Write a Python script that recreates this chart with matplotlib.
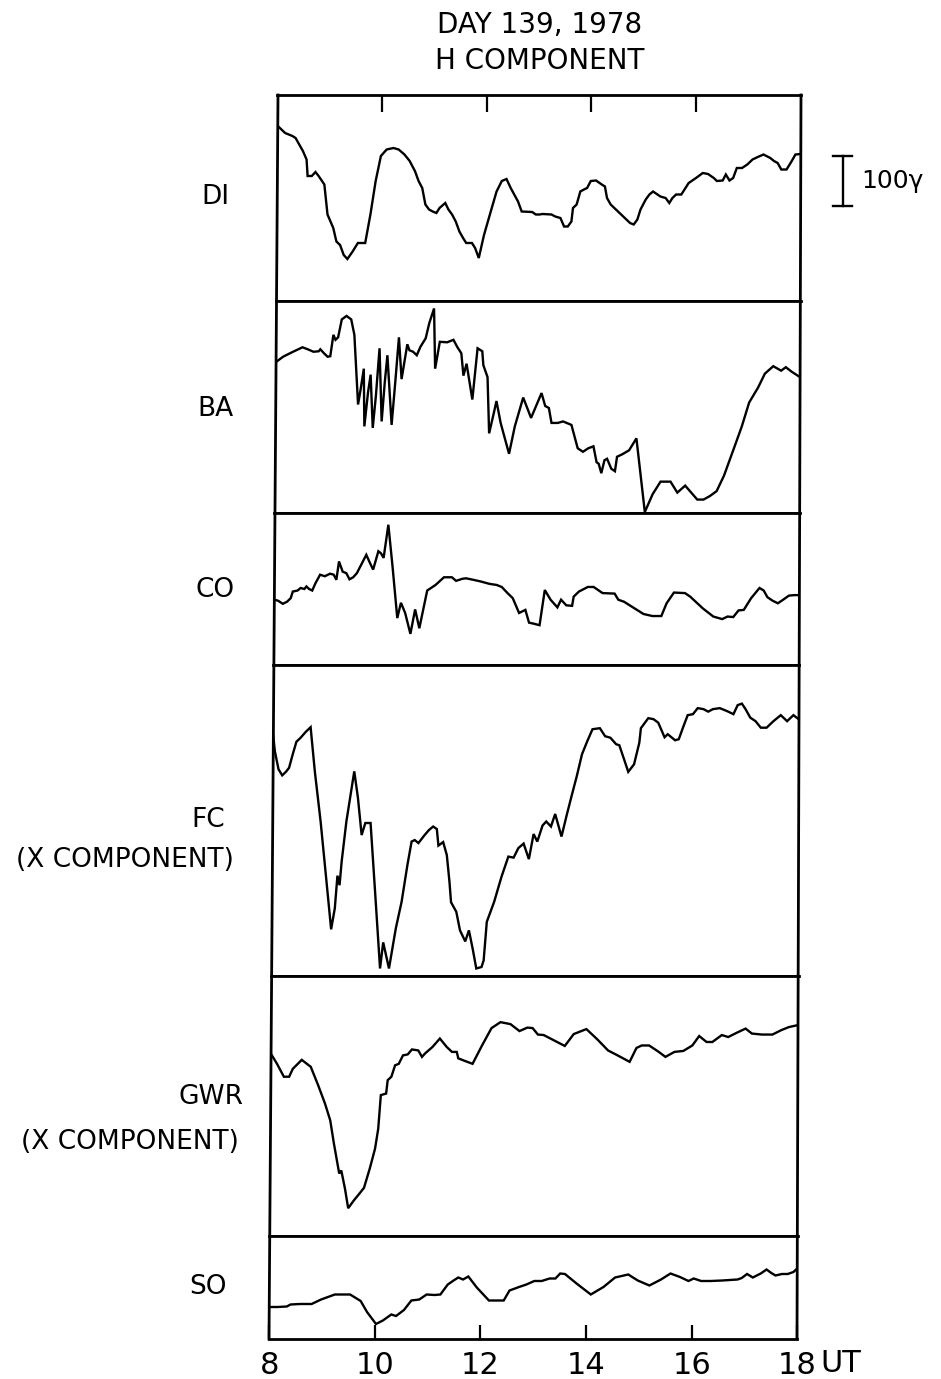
import matplotlib
matplotlib.use('Agg')
import matplotlib.pyplot as plt
from matplotlib.lines import Line2D

# Magnetogramas do dia 139 de 1978, componente H
# valores: tempo em UT (horas) e amplitude em gamma acima da base de cada painel

DI_T = [8.01, 8.15, 8.29, 8.35, 8.49, 8.56, 8.58, 8.66, 8.73, 8.79,
        8.90, 8.96, 9.07, 9.13, 9.20, 9.27, 9.34, 9.44, 9.54, 9.68,
        9.78, 9.88, 9.98, 10.09, 10.22, 10.32, 10.43, 10.53, 10.63, 10.70,
        10.77, 10.83, 10.90, 10.97, 11.04, 11.10, 11.21, 11.27, 11.34, 11.41,
        11.48, 11.55, 11.61, 11.72, 11.78, 11.85, 11.95, 12.09, 12.19, 12.29,
        12.38, 12.46, 12.60, 12.67, 12.87, 12.94, 13.01, 13.07, 13.24, 13.31,
        13.41, 13.48, 13.55, 13.62, 13.65, 13.72, 13.79, 13.86, 13.92, 13.99,
        14.09, 14.20, 14.26, 14.30, 14.37, 14.47, 14.57, 14.67, 14.74, 14.81,
        14.88, 14.94, 15.04, 15.11, 15.18, 15.32, 15.42, 15.49, 15.55, 15.62,
        15.72, 15.86, 16.00, 16.13, 16.23, 16.34, 16.40, 16.51, 16.57, 16.64,
        16.71, 16.78, 16.88, 16.98, 17.08, 17.18, 17.29, 17.42, 17.49, 17.56,
        17.63, 17.73, 17.83, 17.90, 18.00]
DI_V = [350, 336, 330, 326, 300, 283, 250, 250, 258, 250,
        233, 173, 146, 119, 112, 92, 84, 99, 116, 116,
        173, 240, 290, 303, 306, 303, 293, 280, 260, 240,
        226, 193, 183, 179, 176, 186, 196, 183, 173, 159,
        139, 126, 116, 116, 106, 86, 132, 183, 219, 240,
        244, 226, 199, 179, 178, 173, 173, 174, 173, 169,
        166, 149, 149, 159, 186, 193, 219, 223, 226, 240,
        241, 233, 229, 206, 193, 183, 173, 163, 156, 153,
        163, 183, 203, 213, 219, 209, 206, 196, 206, 213,
        213, 236, 246, 256, 254, 246, 240, 241, 253, 241,
        246, 266, 266, 273, 283, 288, 293, 286, 280, 276,
        263, 263, 280, 293, 294]

BA_T = [8.00, 8.14, 8.31, 8.51, 8.61, 8.72, 8.82, 8.85, 8.92, 8.99,
        9.04, 9.10, 9.14, 9.19, 9.26, 9.35, 9.44, 9.50, 9.57, 9.62,
        9.68, 9.69, 9.76, 9.81, 9.85, 9.91, 9.98, 10.02, 10.08, 10.13,
        10.21, 10.28, 10.35, 10.40, 10.51, 10.55, 10.62, 10.69, 10.76, 10.86,
        10.93, 11.02, 11.04, 11.13, 11.27, 11.39, 11.46, 11.54, 11.58, 11.64,
        11.75, 11.85, 11.94, 11.96, 12.04, 12.07, 12.16, 12.21, 12.29, 12.45,
        12.56, 12.72, 12.87, 13.07, 13.14, 13.21, 13.26, 13.38, 13.48, 13.64,
        13.76, 13.86, 13.96, 14.06, 14.12, 14.16, 14.21, 14.27, 14.32, 14.40,
        14.47, 14.51, 14.61, 14.74, 14.88, 15.04, 15.19, 15.34, 15.53, 15.66,
        15.81, 16.04, 16.16, 16.28, 16.41, 16.55, 16.75, 16.89, 17.03, 17.20,
        17.33, 17.49, 17.64, 17.73, 17.84, 18.00]
BA_V = [303, 314, 323, 333, 329, 324, 325, 329, 321, 314,
        315, 358, 348, 353, 389, 396, 389, 358, 218, 249,
        290, 174, 242, 278, 171, 235, 331, 184, 263, 317,
        177, 263, 353, 269, 339, 327, 324, 317, 334, 351,
        382, 411, 290, 344, 343, 348, 334, 321, 276, 300,
        228, 331, 325, 297, 273, 160, 201, 225, 181, 119,
        174, 232, 191, 241, 215, 211, 181, 181, 184, 177,
        130, 123, 130, 134, 102, 99, 80, 106, 109, 89,
        84, 113, 118, 126, 150, 2, 38, 63, 63, 41,
        55, 27, 27, 34, 44, 75, 133, 174, 222, 252,
        280, 295, 286, 293, 284, 273]

CO_T = [8.00, 8.07, 8.16, 8.24, 8.31, 8.35, 8.44, 8.50, 8.57, 8.61,
        8.66, 8.72, 8.78, 8.87, 8.96, 9.06, 9.13, 9.18, 9.23, 9.30,
        9.37, 9.43, 9.50, 9.57, 9.67, 9.75, 9.82, 9.88, 9.98, 10.03,
        10.08, 10.17, 10.25, 10.34, 10.41, 10.49, 10.59, 10.68, 10.76, 10.91,
        11.07, 11.23, 11.38, 11.46, 11.58, 11.65, 11.79, 11.92, 12.10, 12.23,
        12.33, 12.44, 12.54, 12.66, 12.78, 12.85, 12.94, 13.05, 13.15, 13.26,
        13.39, 13.46, 13.56, 13.67, 13.70, 13.80, 13.97, 14.08, 14.25, 14.48,
        14.55, 14.66, 14.86, 15.03, 15.20, 15.37, 15.47, 15.61, 15.82, 15.92,
        16.16, 16.36, 16.53, 16.63, 16.74, 16.84, 16.94, 17.08, 17.24, 17.32,
        17.39, 17.49, 17.59, 17.69, 17.80, 17.90, 18.00]
CO_V = [128, 126, 120, 124, 131, 144, 146, 151, 149, 154,
        149, 146, 160, 177, 174, 179, 177, 167, 203, 183,
        180, 168, 172, 180, 200, 216, 200, 187, 223, 219,
        210, 275, 193, 92, 122, 102, 61, 109, 72, 146,
        157, 172, 172, 165, 169, 170, 167, 164, 159, 157,
        153, 141, 131, 102, 108, 83, 81, 78, 147, 128,
        113, 128, 117, 116, 134, 144, 153, 153, 141, 140,
        128, 124, 111, 100, 96, 96, 121, 142, 141, 134,
        111, 95, 90, 95, 94, 107, 108, 131, 151, 146,
        133, 126, 121, 128, 136, 137, 137]

FC_T = [8.00, 8.04, 8.11, 8.18, 8.25, 8.31, 8.38, 8.45, 8.53, 8.63,
        8.72, 8.80, 8.91, 9.01, 9.11, 9.18, 9.23, 9.27, 9.31, 9.40,
        9.55, 9.62, 9.69, 9.76, 9.86, 9.95, 10.04, 10.10, 10.21, 10.34,
        10.45, 10.56, 10.64, 10.70, 10.77, 10.88, 10.97, 11.05, 11.12, 11.15,
        11.24, 11.31, 11.36, 11.39, 11.49, 11.56, 11.66, 11.73, 11.80, 11.87,
        11.97, 12.01, 12.07, 12.21, 12.35, 12.48, 12.58, 12.67, 12.77, 12.87,
        12.96, 13.03, 13.13, 13.20, 13.29, 13.37, 13.49, 13.59, 13.69, 13.78,
        13.88, 13.98, 14.08, 14.22, 14.32, 14.42, 14.53, 14.59, 14.68, 14.76,
        14.87, 14.97, 15.00, 15.14, 15.24, 15.33, 15.45, 15.51, 15.65, 15.72,
        15.81, 15.89, 15.99, 16.08, 16.19, 16.28, 16.37, 16.50, 16.64, 16.76,
        16.84, 16.92, 16.99, 17.08, 17.18, 17.28, 17.39, 17.52, 17.66, 17.78,
        17.90, 18.00]
FC_V = [488, 448, 412, 400, 407, 415, 442, 467, 475, 487,
        496, 408, 308, 201, 93, 135, 200, 181, 228, 308,
        408, 355, 281, 305, 305, 161, 15, 67, 15, 95,
        148, 221, 268, 271, 265, 280, 291, 298, 293, 260,
        267, 241, 188, 147, 128, 91, 69, 91, 55, 15,
        18, 31, 108, 148, 198, 238, 236, 255, 264, 233,
        283, 268, 300, 308, 298, 323, 278, 321, 362, 398,
        442, 468, 492, 494, 478, 475, 462, 460, 432, 407,
        422, 465, 494, 514, 512, 505, 476, 482, 470, 472,
        498, 520, 522, 534, 532, 527, 532, 534, 528, 522,
        540, 543, 532, 515, 508, 495, 495, 508, 520, 508,
        520, 512]

GWR_T = [8.00, 8.12, 8.25, 8.35, 8.42, 8.59, 8.76, 8.90, 9.03, 9.13,
         9.20, 9.30, 9.34, 9.41, 9.47, 9.58, 9.68, 9.77, 9.88, 9.98,
         10.04, 10.09, 10.19, 10.22, 10.29, 10.36, 10.43, 10.51, 10.60, 10.68,
         10.80, 10.87, 10.93, 11.07, 11.21, 11.34, 11.44, 11.53, 11.56, 11.68,
         11.83, 12.01, 12.19, 12.36, 12.55, 12.72, 12.87, 12.97, 13.07, 13.18,
         13.38, 13.58, 13.75, 13.99, 14.20, 14.40, 14.60, 14.81, 14.94, 15.04,
         15.18, 15.35, 15.49, 15.66, 15.83, 16.00, 16.13, 16.27, 16.38, 16.56,
         16.68, 16.85, 17.01, 17.13, 17.32, 17.52, 17.69, 17.83, 18.00]
GWR_V = [368, 347, 321, 321, 337, 355, 341, 304, 267, 233,
         186, 126, 132, 95, 56, 72, 85, 97, 136, 176,
         216, 284, 287, 314, 321, 344, 347, 364, 366, 376,
         374, 361, 368, 381, 398, 381, 371, 371, 358, 353,
         347, 384, 419, 431, 427, 413, 420, 419, 406, 405,
         394, 383, 407, 417, 396, 374, 363, 351, 379, 384,
         384, 372, 361, 371, 373, 384, 403, 391, 391, 405,
         401, 410, 418, 408, 406, 406, 415, 421, 425]

SO_T = [8.00, 8.15, 8.33, 8.40, 8.58, 8.80, 8.98, 9.24, 9.53, 9.73,
        9.85, 10.02, 10.15, 10.31, 10.40, 10.55, 10.69, 10.84, 10.98, 11.13,
        11.24, 11.31, 11.38, 11.49, 11.58, 11.67, 11.77, 11.93, 12.16, 12.44,
        12.55, 12.73, 12.87, 13.02, 13.16, 13.31, 13.42, 13.51, 13.60, 13.82,
        14.09, 14.33, 14.55, 14.80, 14.98, 15.20, 15.42, 15.60, 15.78, 15.94,
        16.04, 16.18, 16.36, 16.58, 16.87, 16.95, 17.05, 17.16, 17.31, 17.42,
        17.51, 17.59, 17.71, 17.82, 17.93, 18.00]
SO_V = [64, 64, 65, 69, 70, 70, 79, 89, 89, 76,
        54, 30, 37, 49, 46, 58, 77, 79, 89, 88,
        89, 99, 109, 117, 123, 119, 125, 103, 77, 77,
        97, 104, 109, 116, 116, 121, 121, 131, 130, 111,
        89, 104, 123, 129, 117, 107, 119, 131, 124, 116,
        121, 116, 116, 117, 119, 122, 130, 123, 131, 139,
        132, 127, 130, 130, 134, 141]

# altura de cada painel em gamma (mesma escala nos seis)
PANEL_RANGE = [412, 426, 298, 620, 524, 206]
SCALE_BAR = 100
TICKS = [8, 10, 12, 14, 16, 18]
TICK_LABELS = ['8', '10', '12', '14', '16', '18']

W, H = 941, 1379
fig = plt.figure(figsize=(W / 100, H / 100), dpi=100)
plt.rcParams['font.family'] = ['DejaVu Sans']

# moldura levemente inclinada como no scan original (pixels)
Y0, Y1 = 95, 1339
ESQ0, ESQ1 = 278, 269
DIR0, DIR1 = 801, 797


def borda(y, a, b):
    return a + (b - a) * (y - Y0) / (Y1 - Y0)


limites = [95, 301, 513, 665, 976, 1236, 1339]
series = [(DI_T, DI_V), (BA_T, BA_V), (CO_T, CO_V), (FC_T, FC_V), (GWR_T, GWR_V), (SO_T, SO_V)]

eixos = []
for i, ((t, v), yr) in enumerate(zip(series, PANEL_RANGE)):
    topo, base = limites[i], limites[i + 1]
    meio = (topo + base) / 2
    esq = borda(meio, ESQ0, ESQ1)
    dir_ = borda(meio, DIR0, DIR1)
    ax = fig.add_axes([esq / W, 1 - base / H, (dir_ - esq) / W, (base - topo) / H])
    ax.plot(t, v, color='black', lw=1.7, solid_joinstyle='miter')
    ax.set_xlim(8, 18)
    ax.set_ylim(0, yr)
    ax.spines['left'].set_visible(False)
    ax.spines['right'].set_visible(False)
    ax.spines['top'].set_linewidth(2.0)
    ax.spines['bottom'].set_linewidth(2.0)
    ax.set_xticks([])
    ax.set_yticks([])
    eixos.append(ax)

for a, b in [(ESQ0, ESQ1), (DIR0, DIR1)]:
    fig.add_artist(Line2D([a / W, b / W], [1 - Y0 / H, 1 - Y1 / H], color='black', lw=2.0))

# ticks internos no topo do primeiro painel e na base do ultimo
topo_ax = eixos[0]
topo_ax.xaxis.set_ticks_position('top')
topo_ax.set_xticks(TICKS[1:-1])
topo_ax.tick_params(axis='x', direction='in', length=12, width=1.6, labeltop=False)

base_ax = eixos[-1]
base_ax.set_xticks(TICKS)
base_ax.set_xticklabels(TICK_LABELS)
base_ax.tick_params(axis='x', direction='in', length=10, width=1.6, labelsize=22, pad=9)
fig.text(841 / W, 1 - 1363 / H, 'UT', fontsize=22, ha='center', va='center')

# barra de escala
xb = 18.80
topo_ax.plot([xb, xb], [190, 190 + SCALE_BAR], color='black', lw=1.7, clip_on=False)
topo_ax.plot([xb - 0.18, xb + 0.18], [190, 190], color='black', lw=1.7, clip_on=False)
topo_ax.plot([xb - 0.18, xb + 0.18], [190 + SCALE_BAR, 190 + SCALE_BAR], color='black', lw=1.7, clip_on=False)
topo_ax.text(xb + 0.35, 190 + SCALE_BAR / 2, '%dγ' % SCALE_BAR, fontsize=18, ha='left', va='center')

# titulo
fig.text(540 / W, 1 - 25 / H, 'DAY 139, 1978', fontsize=20, ha='center', va='center')
fig.text(540 / W, 1 - 61 / H, 'H COMPONENT', fontsize=20, ha='center', va='center')

# nomes das estacoes
rotulos = [('DI', 215, 197), ('BA', 215, 409), ('CO', 215, 590),
           ('FC', 208, 820), ('(X COMPONENT)', 125, 860),
           ('GWR', 211, 1097), ('(X COMPONENT)', 130, 1142), ('SO', 208, 1287)]
for txt, x, y in rotulos:
    fig.text(x / W, 1 - y / H, txt, fontsize=19, ha='center', va='center')

plt.savefig('out.png', dpi=100)
plt.close()
